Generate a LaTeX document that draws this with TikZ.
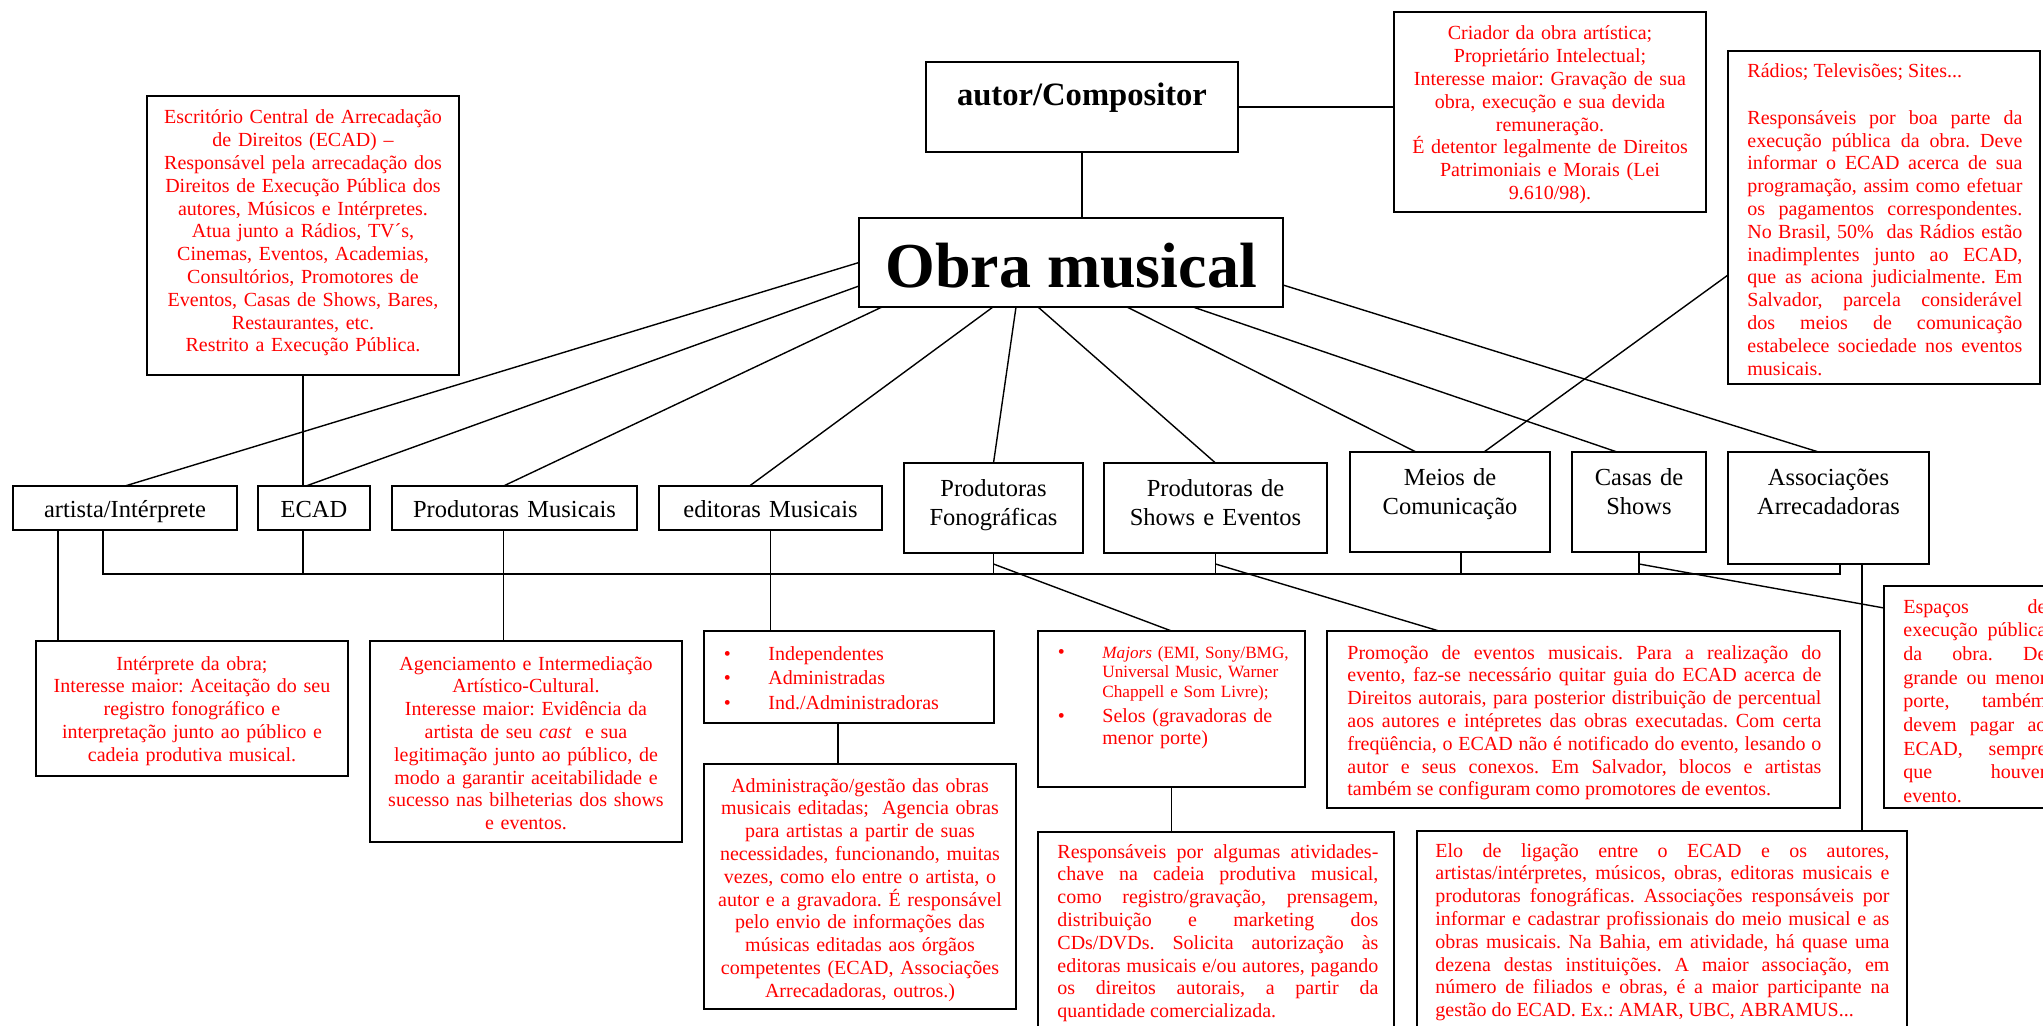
\documentclass[tikz,border=0pt]{standalone}
\usepackage{fontspec}
\setmainfont{Liberation Serif}
\usetikzlibrary{calc,fit}
\frenchspacing
\definecolor{notered}{RGB}{255,0,0}
% bullet hung to the left of an item
\newcommand\notebullet{\leavevmode\llap{{\fontsize{10}{12}\selectfont\textbullet}\hspace{18.75pt}}}
\tikzset{
  box/.style={draw=black, line width=0.75pt, inner sep=0pt, outer sep=0pt},
  link/.style={draw=black, line width=0.7pt},
  lbl/.style={inner sep=0pt, anchor=base, text width=112pt, align=center,
    font=\fontsize{12.25}{14.75}\selectfont},
  note/.style={inner sep=0pt, anchor=base, text width=155pt, align=center, text=notered,
    font=\fontsize{10}{11.4}\selectfont},
  jnote/.style={inner sep=0pt, anchor=base west, align=justify, text=notered,
    font=\fontsize{10}{11.4}\selectfont,
    execute at begin node={\frenchspacing\hyphenpenalty=10000\exhyphenpenalty=10000\tolerance=10000\hbadness=10000}},
  lnote/.style={inner sep=0pt, anchor=base west, align=left, text=notered, text width=125pt},
}
\begin{document}
\begin{tikzpicture}[x=0.5pt,y=-0.5pt]
\useasboundingbox (0,0) rectangle (2043,1026);
\clip (0,0) rectangle (2043,1026);

% ---------- boxes ----------
\node[box, fit={(926,62) (1238,152)}] (autor) {};
\node[box, fit={(859,218) (1283,307)}] (obra) {};
\node[box, fit={(1394,12) (1706,212)}] (criador) {};
\node[box, fit={(1728,51) (2040,384)}] (radios) {};
\node[box, fit={(147,96) (459,375)}] (ecaddesc) {};

\node[box, fit={(13,486) (237,530)}] (artista) {};
\node[box, fit={(258,486) (370,530)}] (ecad) {};
\node[box, fit={(392,486) (637,530)}] (prodmus) {};
\node[box, fit={(659,486) (882,530)}] (editoras) {};
\node[box, fit={(904,463) (1083,553)}] (fono) {};
\node[box, fit={(1104,463) (1327,553)}] (shows) {};
\node[box, fit={(1350,452) (1550,552)}] (meios) {};
\node[box, fit={(1572,452) (1706,552)}] (casas) {};
\node[box, fit={(1728,452) (1929,564)}] (assoc) {};

\node[box, fit={(36,641) (348,776)}] (interp) {};
\node[box, fit={(370,641) (682,842)}] (agenc) {};
\node[box, fit={(704,631) (994,723)}] (bullets) {};
\node[box, fit={(704,764) (1016,1009)}] (admin) {};
\node[box, fit={(1038,631) (1305,787)}] (majors) {};
\node[box, fit={(1038,832) (1394,1045)}] (resp) {};
\node[box, fit={(1327,631) (1840,808)}] (promo) {};
\node[box, fit={(1884,586) (2066,808)}] (espacos) {};
\node[box, fit={(1417,831) (1907,1045)}] (elo) {};

% ---------- titles ----------
\node[inner sep=0pt, anchor=base, font=\fontsize{16.3}{19}\selectfont\bfseries] (autorT)
  at ($(autor.north)+(0,44)$) {autor/Compositor};
\node[inner sep=0pt, anchor=base, font=\fontsize{32}{38}\selectfont\bfseries] (obraT)
  at ($(obra.north)+(0,70)$) {Obra musical};

\node[lbl] (artistaT) at ($(artista.north)+(0,31)$) {artista/Intérprete};
\node[lbl] (ecadT) at ($(ecad.north)+(0,31)$) {ECAD};
\node[lbl] (prodmusT) at ($(prodmus.north)+(0,31)$) {Produtoras Musicais};
\node[lbl] (editorasT) at ($(editoras.north)+(0,31)$) {editoras Musicais};
\node[lbl] (fonoT) at ($(fono.north)+(0,33)$) {Produtoras\\Fonográficas};
\node[lbl] (showsT) at ($(shows.north)+(0,33)$) {Produtoras de\\Shows e Eventos};
\node[lbl] (meiosT) at ($(meios.north)+(0,33)$) {Meios de\\Comunicação};
\node[lbl] (casasT) at ($(casas.north)+(0,33)$) {Casas de\\Shows};
\node[lbl] (assocT) at ($(assoc.north)+(0,33)$) {Associações\\Arrecadadoras};

% ---------- notes ----------
\node[note] (ecaddescT) at ($(ecaddesc.north)+(0,28)$) {Escritório Central de Arrecadação\\
de Direitos (ECAD) –\\
Responsável pela arrecadação dos\\
Direitos de Execução Pública dos\\
autores, Músicos e Intérpretes.\\
Atua junto a Rádios, TV´s,\\
Cinemas, Eventos, Academias,\\
Consultórios, Promotores de\\
Eventos, Casas de Shows, Bares,\\
Restaurantes, etc.\\
Restrito a Execução Pública.};

\node[note] (criadorT) at ($(criador.north)+(0,28)$) {Criador da obra artística;\\
Proprietário Intelectual;\\
Interesse maior: Gravação de sua\\
obra, execução e sua devida\\
remuneração.\\
É detentor legalmente de Direitos\\
Patrimoniais e Morais (Lei\\
9.610/98).};

\node[jnote, text width=137.5pt] (radiosT) at ($(radios.north west)+(19,26.5)$) {Rádios; Televisões; Sites...\\[12pt]
Responsáveis por boa parte da\linebreak
execução pública da obra. Deve\linebreak
informar o ECAD acerca de sua\linebreak
programação, assim como efetuar\linebreak
os pagamentos correspondentes.\linebreak
No Brasil, 50\%\ \ das Rádios estão\linebreak
inadimplentes junto ao ECAD,\linebreak
que as aciona judicialmente. Em\linebreak
Salvador, parcela considerável\linebreak
dos meios de comunicação\linebreak
estabelece sociedade nos eventos\linebreak
musicais.};

\node[note] (interpT) at ($(interp.north)+(0,29)$) {Intérprete da obra;\\
Interesse maior: Aceitação do seu\\
registro fonográfico e\\
interpretação junto ao público e\\
cadeia produtiva musical.};

\node[note] (agencT) at ($(agenc.north)+(0,29)$) {Agenciamento e Intermediação\\
Artístico-Cultural.\\
Interesse maior: Evidência da\\
artista de seu \textit{cast}~ e sua\\
legitimação junto ao público, de\\
modo a garantir aceitabilidade e\\
sucesso nas bilheterias dos shows\\
e eventos.};

\node[lnote, font=\fontsize{10}{12.25}\selectfont] (bulletsT) at ($(bullets.north west)+(64,29)$)
  {\notebullet Independentes\\\notebullet Administradas\\\notebullet Ind./Administradoras};

\node[note] (adminT) at ($(admin.north)+(0,28)$) {Administração/gestão das obras\\
musicais editadas;~ Agencia obras\\
para artistas a partir de suas\\
necessidades, funcionando, muitas\\
vezes, como elo entre o artista, o\\
autor e a gravadora. É responsável\\
pelo envio de informações das\\
músicas editadas aos órgãos\\
competentes (ECAD, Associações\\
Arrecadadoras, outros.)};

\node[lnote, font=\fontsize{8.6}{9.75}\selectfont] (majorsT) at ($(majors.north west)+(64,27)$)
  {\notebullet\textit{Majors} (EMI, Sony/BMG,\\Universal Music, Warner\\Chappell e Som Livre);};
\node[lnote, font=\fontsize{10}{11}\selectfont] (selosT) at ($(majors.north west)+(64,91)$)
  {\notebullet Selos (gravadoras de\\menor porte)};

\node[jnote, text width=160.5pt] (respT) at ($(resp.north west)+(19,26)$) {Responsáveis por algumas atividades-\linebreak
chave na cadeia produtiva musical,\linebreak
como registro/gravação, prensagem,\linebreak
distribuição e marketing dos\linebreak
CDs/DVDs. Solicita autorização às\linebreak
editoras musicais e/ou autores, pagando\linebreak
os direitos autorais, a partir da\linebreak
quantidade comercializada.};

\node[jnote, text width=237pt] (promoT) at ($(promo.north west)+(20,28)$) {Promoção de eventos musicais. Para a realização do\linebreak
evento, faz-se necessário quitar guia do ECAD acerca de\linebreak
Direitos autorais, para posterior distribuição de percentual\linebreak
aos autores e intépretes das obras executadas. Com certa\linebreak
freqüência, o ECAD não é notificado do evento, lesando o\linebreak
autor e seus conexos. Em Salvador, blocos e artistas\linebreak
também se configuram como promotores de eventos.};

\node[jnote, text width=71.5pt, font=\fontsize{10}{11.85}\selectfont] (espacosT) at ($(espacos.north west)+(19,27)$) {Espaços de\linebreak
execução pública\linebreak
da obra. De\linebreak
grande ou menor\linebreak
porte, também\linebreak
devem pagar ao\linebreak
ECAD, sempre\linebreak
que houver\linebreak
evento.};

\node[jnote, text width=227pt] (eloT) at ($(elo.north west)+(18,26)$) {Elo de ligação entre o ECAD e os autores,\linebreak
artistas/intérpretes, músicos, obras, editoras musicais e\linebreak
produtoras fonográficas. Associações responsáveis por\linebreak
informar e cadastrar profissionais do meio musical e as\linebreak
obras musicais. Na Bahia, em atividade, há quase uma\linebreak
dezena destas instituições. A maior associação, em\linebreak
número de filiados e obras, é a maior participante na\linebreak
gestão do ECAD. Ex.: AMAR, UBC, ABRAMUS...};

% ---------- connectors ----------
% author and the work
\draw[link] (autor.south) -- (autor.south |- obra.north);
\draw[link] (autor.east) -- (autor.east -| criador.west);

% fan from the work to the agents
\draw[link] (obra.west) -- (artista.north);
\draw[link] ($(obra.south west)+(0,-21)$) -- ($(ecad.north)+(-8,0)$);
\draw[link] ($(obra.south west)+(23,0)$) -- ($(prodmus.north)+(-11,0)$);
\draw[link] ($(obra.south west)+(134,0)$) -- ($(editoras.north)+(-21,0)$);
\draw[link] ($(obra.south west)+(157,0)$) -- (fono.north);
\draw[link] ($(obra.south west)+(179,0)$) -- (shows.north);
\draw[link] ($(obra.south west)+(268,0)$) -- ($(meios.north)+(-34,0)$);
\draw[link] ($(obra.south west)+(334,0)$) -- ($(casas.north)+(-22,0)$);
\draw[link] ($(obra.south east)+(0,-22)$) -- ($(assoc.north)+(-10,0)$);
\draw[link] ($(meios.north)+(34,0)$) -- ($(radios.south west)+(0,-109)$);

% ECAD description
\draw[link] (ecaddesc.south) -- (ecaddesc.south |- ecad.north);

% common bus below the agents
\coordinate (aA) at ($(artista.south west)+(90,0)$);
\coordinate (aB) at ($(artista.south west)+(45,0)$);
\coordinate (busL) at ($(artista.south west)+(90,44)$);
\coordinate (asR) at ($(assoc.south west)+(112,0)$);
\coordinate (asD) at ($(assoc.south west)+(134,0)$);
\coordinate (pmx) at ($(prodmus.south)+(-11,0)$);
\coordinate (mx) at ($(meios.south)+(11,0)$);
\coordinate (bx) at ($(bullets.south west)+(134,0)$);

\draw[link] (aA) |- (busL -| asR) -- (asR);
\draw[link] (ecaddesc.south |- ecad.south) -- (ecaddesc.south |- busL);
\draw[link] (fono.south) -- (fono.south |- busL);
\draw[link] (shows.south) -- (shows.south |- busL);
\draw[link] (mx) -- (mx |- busL);
\draw[link] (casas.south) -- (casas.south |- busL);

% descriptions of each agent
\draw[link] (aB) -- (aB |- interp.north);
\draw[link] (pmx) -- (pmx |- agenc.north);
\draw[link] (editoras.south) -- (editoras.south |- bullets.north);
\draw[link] (bx) -- (bx |- admin.north);
\draw[link] ($(fono.south)+(0,11)$) -- (majors.north);
\draw[link] (majors.south) -- (majors.south |- resp.north);
\draw[link] ($(shows.south)+(0,11)$) -- ($(promo.north west)+(112,0)$);
\draw[link] ($(casas.south)+(0,12)$) -- ($(espacos.north west)+(0,22)$);
\draw[link] (asD) -- (asD |- elo.north);
\end{tikzpicture}
\end{document}
